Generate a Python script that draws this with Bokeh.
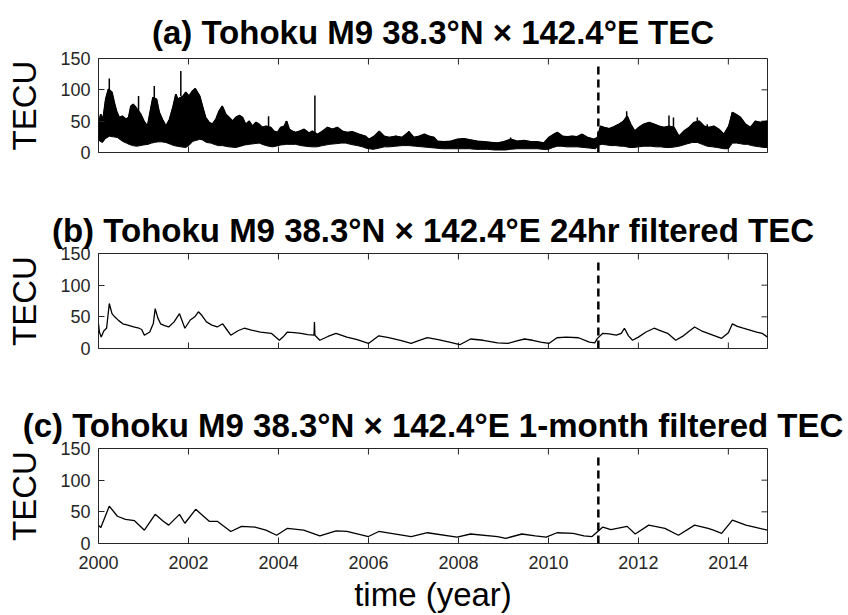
import math
from bokeh.plotting import figure
from bokeh.layouts import column
from bokeh.models import Range1d, LinearAxis, FixedTicker
from bokeh.embed import file_html
from bokeh.resources import INLINE

# ---------------- data ----------------
X_START, X_END = 2000.0, 2014.87
Y_MIN, Y_MAX = 0, 150
quake_year = 2011.11
quake_line_top = 140
year_ticks = [2000, 2002, 2004, 2006, 2008, 2010, 2012, 2014]
tecu_ticks = [0, 50, 100, 150]

titles = [
    "(a) Tohoku M9 38.3°N × 142.4°E TEC",
    "(b) Tohoku M9 38.3°N × 142.4°E 24hr filtered TEC",
    "(c) Tohoku M9 38.3°N × 142.4°E 1-month filtered TEC",
]

# (a) raw hourly TEC: upper and lower edges of the dense daily oscillation band
a_upper_years = [2000.00, 2000.05, 2000.10, 2000.16, 2000.22, 2000.30, 2000.35, 2000.40, 2000.46, 2000.53,
                 2000.61, 2000.67, 2000.72, 2000.77, 2000.83, 2000.94, 2001.01, 2001.09, 2001.16, 2001.21,
                 2001.29, 2001.35, 2001.42, 2001.50, 2001.58, 2001.66, 2001.72, 2001.76, 2001.88, 2001.94,
                 2002.01, 2002.09, 2002.15, 2002.20, 2002.25, 2002.31, 2002.38, 2002.46, 2002.53, 2002.61,
                 2002.68, 2002.75, 2002.83, 2002.90, 2002.98, 2003.05, 2003.13, 2003.20, 2003.27, 2003.35,
                 2003.42, 2003.50, 2003.57, 2003.64, 2003.72, 2003.83, 2003.90, 2003.98, 2004.05, 2004.13,
                 2004.18, 2004.24, 2004.31, 2004.38, 2004.47, 2004.57, 2004.68, 2004.75, 2004.87, 2004.98,
                 2005.09, 2005.20, 2005.31, 2005.42, 2005.53, 2005.64, 2005.79, 2005.93, 2006.01, 2006.13,
                 2006.24, 2006.35, 2006.46, 2006.61, 2006.75, 2006.90, 2007.01, 2007.13, 2007.24, 2007.35,
                 2007.46, 2007.53, 2007.68, 2007.83, 2007.98, 2008.12, 2008.27, 2008.42, 2008.57, 2008.72,
                 2008.87, 2009.01, 2009.16, 2009.31, 2009.46, 2009.61, 2009.75, 2009.90, 2010.01, 2010.12,
                 2010.20, 2010.31, 2010.42, 2010.53, 2010.64, 2010.75, 2010.87, 2011.01, 2011.09, 2011.16,
                 2011.24, 2011.35, 2011.46, 2011.57, 2011.67, 2011.75, 2011.83, 2011.92, 2012.01, 2012.12,
                 2012.24, 2012.35, 2012.46, 2012.57, 2012.68, 2012.79, 2012.90, 2013.01, 2013.13, 2013.24,
                 2013.35, 2013.46, 2013.57, 2013.68, 2013.79, 2013.90, 2014.01, 2014.09, 2014.16, 2014.27,
                 2014.38, 2014.49, 2014.60, 2014.71, 2014.87]
a_upper = [45, 61, 53, 85, 101, 96, 80, 66, 56, 58,
           53, 56, 74, 77, 72, 61, 50, 42, 69, 88,
           85, 64, 53, 42, 53, 74, 93, 85, 90, 96,
           90, 98, 102, 96, 90, 74, 56, 48, 45, 53,
           66, 74, 61, 56, 50, 56, 59, 56, 45, 50,
           42, 48, 45, 40, 42, 40, 34, 32, 40, 42,
           50, 37, 34, 32, 34, 37, 31, 34, 29, 34,
           40, 37, 40, 34, 32, 33, 29, 26, 21, 26,
           34, 26, 24, 26, 24, 33, 24, 26, 29, 26,
           24, 18, 17, 18, 21, 22, 20, 18, 17, 16,
           15, 17, 21, 18, 19, 17, 17, 15, 24, 29,
           32, 26, 25, 26, 25, 29, 24, 21, 24, 42,
           40, 38, 41, 45, 50, 58, 45, 34, 40, 45,
           48, 45, 42, 40, 42, 40, 26, 34, 40, 48,
           50, 42, 40, 42, 37, 29, 42, 64, 61, 56,
           45, 40, 50, 48, 50]
a_lower_years = [2000.00, 2000.03, 2000.09, 2000.15, 2000.24, 2000.33, 2000.42, 2000.53, 2000.62, 2000.68,
                 2000.76, 2000.85, 2000.93, 2001.00, 2001.10, 2001.18, 2001.24, 2001.32, 2001.40, 2001.50,
                 2001.60, 2001.68, 2001.75, 2001.83, 2001.94, 2002.02, 2002.10, 2002.16, 2002.25, 2002.31,
                 2002.40, 2002.50, 2002.57, 2002.66, 2002.75, 2002.82, 2002.90, 2003.05, 2003.16, 2003.25,
                 2003.35, 2003.45, 2003.57, 2003.68, 2003.78, 2003.87, 2003.94, 2004.05, 2004.18, 2004.28,
                 2004.38, 2004.50, 2004.60, 2004.75, 2004.85, 2004.98, 2005.13, 2005.27, 2005.40, 2005.50,
                 2005.60, 2005.75, 2005.87, 2005.94, 2006.10, 2006.24, 2006.35, 2006.46, 2006.60, 2006.75,
                 2006.90, 2007.05, 2007.20, 2007.35, 2007.50, 2007.65, 2007.75, 2007.90, 2008.00, 2008.12,
                 2008.25, 2008.38, 2008.50, 2008.65, 2008.80, 2008.90, 2009.05, 2009.15, 2009.30, 2009.46,
                 2009.60, 2009.75, 2009.88, 2010.00, 2010.10, 2010.20, 2010.30, 2010.40, 2010.50, 2010.65,
                 2010.79, 2010.92, 2011.05, 2011.12, 2011.20, 2011.30, 2011.39, 2011.50, 2011.61, 2011.68,
                 2011.74, 2011.80, 2011.90, 2012.00, 2012.12, 2012.27, 2012.40, 2012.50, 2012.60, 2012.72,
                 2012.82, 2012.90, 2013.00, 2013.09, 2013.20, 2013.31, 2013.42, 2013.53, 2013.65, 2013.75,
                 2013.90, 2014.00, 2014.09, 2014.18, 2014.27, 2014.35, 2014.42, 2014.52, 2014.60, 2014.70,
                 2014.79, 2014.87]
a_lower = [22, 18, 16, 22, 26, 25, 24, 18, 15, 13,
           11, 10, 11, 12, 13, 15, 16, 17, 17, 16,
           13, 11, 10, 9, 8, 12, 18, 19, 21, 20,
           16, 15, 13, 11, 11, 10, 9, 8, 10, 12,
           13, 14, 15, 12, 10, 9, 10, 12, 13, 13,
           13, 11, 10, 9, 9, 11, 13, 14, 15, 15,
           13, 11, 9, 7, 5, 7, 9, 9, 10, 11,
           11, 10, 9, 8, 7, 6, 6, 6, 6, 6,
           6, 5, 5, 5, 4, 4, 4, 5, 6, 6,
           6, 6, 5, 5, 8, 10, 10, 9, 9, 9,
           8, 7, 6, 12, 13, 12, 11, 11, 10, 10,
           9, 8, 8, 9, 10, 10, 9, 9, 8, 8,
           9, 10, 12, 14, 16, 16, 13, 10, 9, 8,
           6, 6, 15, 15, 14, 13, 13, 11, 10, 9,
           8, 8]
# isolated spikes of (a)
a_spike_years = [2000.24, 2000.89, 2001.24, 2001.83, 2003.78, 2004.18, 2004.81, 2006.24, 2006.90,
                 2009.16, 2011.74, 2012.68, 2012.78, 2013.31, 2013.53, 2014.09]
a_spike_base = [95, 60, 85, 90, 42, 42, 32, 28, 24, 17, 55, 42, 40, 48, 40, 60]
a_spike_top = [118, 90, 106, 130, 58, 50, 91, 34, 34, 24, 66, 59, 56, 56, 45, 64]

# (b) 24-hour filtered TEC
b_years = [2000.00, 2000.02, 2000.06, 2000.12, 2000.18, 2000.24, 2000.30, 2000.36, 2000.45, 2000.54,
           2000.65, 2000.78, 2000.90, 2000.96, 2001.02, 2001.14, 2001.22, 2001.26, 2001.32, 2001.38,
           2001.47, 2001.56, 2001.68, 2001.80, 2001.92, 2002.04, 2002.14, 2002.22, 2002.30, 2002.40,
           2002.52, 2002.64, 2002.76, 2002.85, 2002.94, 2003.10, 2003.24, 2003.40, 2003.60, 2003.84,
           2004.02, 2004.10, 2004.20, 2004.35, 2004.50, 2004.65, 2004.79, 2004.80, 2004.81, 2004.92,
           2005.10, 2005.28, 2005.52, 2005.75, 2006.00, 2006.23, 2006.45, 2006.71, 2006.95, 2007.10,
           2007.31, 2007.55, 2007.80, 2008.03, 2008.27, 2008.55, 2008.87, 2009.10, 2009.30, 2009.47,
           2009.65, 2009.83, 2010.01, 2010.19, 2010.40, 2010.67, 2010.91, 2011.03, 2011.09, 2011.21,
           2011.35, 2011.51, 2011.62, 2011.69, 2011.78, 2011.87, 2012.00, 2012.17, 2012.35, 2012.50,
           2012.65, 2012.83, 2013.00, 2013.12, 2013.25, 2013.40, 2013.55, 2013.70, 2013.85, 2014.00,
           2014.09, 2014.20, 2014.33, 2014.48, 2014.63, 2014.75, 2014.87]
b_values = [39, 26, 18, 28, 32, 71, 55, 50, 44, 39,
            37, 34, 32, 30, 21, 26, 40, 63, 48, 39,
            36, 34, 42, 55, 32, 45, 50, 58, 52, 42,
            37, 34, 39, 30, 21, 28, 32, 29, 26, 24,
            13, 18, 26, 25, 24, 22, 21, 42, 21, 13,
            19, 24, 18, 14, 8, 20, 17, 13, 8, 12,
            17, 14, 10, 6, 15, 13, 9, 8, 12, 15,
            13, 10, 8, 17, 18, 17, 10, 9, 16, 24,
            23, 21, 24, 32, 20, 13, 18, 26, 32, 28,
            24, 13, 20, 27, 34, 28, 24, 20, 16, 25,
            39, 35, 32, 29, 26, 24, 18]

# (c) 1-month filtered TEC
c_years = [2000.00, 2000.05, 2000.24, 2000.42, 2000.60, 2000.72, 2000.80, 2001.02, 2001.26, 2001.44,
           2001.56, 2001.80, 2001.92, 2002.16, 2002.46, 2002.64, 2002.94, 2003.18, 2003.48, 2003.72,
           2003.96, 2004.20, 2004.56, 2004.92, 2005.28, 2005.52, 2006.00, 2006.23, 2006.95, 2007.31,
           2007.97, 2008.27, 2008.87, 2009.05, 2009.41, 2009.71, 2009.95, 2010.19, 2010.55, 2010.79,
           2010.97, 2011.21, 2011.39, 2011.75, 2011.93, 2012.23, 2012.59, 2012.89, 2013.25, 2013.55,
           2013.67, 2013.85, 2014.09, 2014.39, 2014.63, 2014.87]
c_values = [29, 25, 59, 43, 38, 37, 36, 21, 46, 35,
            29, 46, 32, 54, 35, 35, 19, 27, 26, 21,
            13, 24, 21, 12, 20, 19, 11, 19, 11, 17,
            10, 15, 11, 8, 15, 12, 10, 17, 16, 12,
            11, 26, 22, 27, 15, 29, 24, 13, 29, 24,
            21, 16, 37, 29, 25, 21]

# ---------------- styling ----------------
FONT = "Liberation Sans"
INK = "#262626"


def make_panel(title, height, border_top, border_bottom, show_x, title_standoff):
    p = figure(width=848, height=height, output_backend="svg", toolbar_location=None,
               x_range=Range1d(X_START, X_END), y_range=Range1d(Y_MIN, Y_MAX),
               min_border_left=98, min_border_right=81,
               min_border_top=border_top, min_border_bottom=border_bottom,
               x_axis_location=None, y_axis_location=None)
    p.background_fill_color = "white"
    p.border_fill_color = "white"
    p.outline_line_color = INK
    p.outline_line_width = 1
    p.xgrid.visible = False
    p.ygrid.visible = False

    p.title.text = title
    p.title.text_font = FONT
    p.title.text_font_style = "bold"
    p.title.text_font_size = "33px"
    p.title.text_color = "black"
    p.title.align = "center"
    p.title.standoff = title_standoff

    left = LinearAxis(ticker=FixedTicker(ticks=tecu_ticks))
    left.axis_line_color = None
    left.major_tick_in = 6
    left.major_tick_out = 0
    left.major_tick_line_color = INK
    left.minor_tick_line_color = None
    left.major_label_text_font = FONT
    left.major_label_text_color = INK
    left.major_label_text_font_size = "18px"
    left.major_label_standoff = 8
    left.axis_label = "TECU"
    left.axis_label_text_font = FONT
    left.axis_label_text_font_size = "33px"
    left.axis_label_text_font_style = "normal"
    left.axis_label_text_color = "black"
    left.axis_label_standoff = 14
    p.add_layout(left, "left")

    # mirrored inward ticks (top, right, and bottom when unlabelled): half of
    # each dash marker is clipped away by the frame, leaving an inward tick
    p.scatter(x=year_ticks, y=[Y_MAX] * len(year_ticks), marker="dash", angle=math.pi / 2,
              size=12, line_color=INK, line_width=1)
    p.scatter(x=[X_END] * len(tecu_ticks), y=tecu_ticks, marker="dash", angle=0,
              size=12, line_color=INK, line_width=1)

    if show_x:
        bottom = LinearAxis(ticker=FixedTicker(ticks=year_ticks))
        bottom.axis_line_color = None
        bottom.major_tick_in = 6
        bottom.major_tick_out = 0
        bottom.major_tick_line_color = INK
        bottom.minor_tick_line_color = None
        bottom.major_label_text_font = FONT
        bottom.major_label_text_color = INK
        bottom.major_label_text_font_size = "18px"
        bottom.major_label_standoff = 12
        bottom.axis_label = "time (year)"
        bottom.axis_label_text_font = FONT
        bottom.axis_label_text_font_size = "33px"
        bottom.axis_label_text_font_style = "normal"
        bottom.axis_label_text_color = "black"
        bottom.axis_label_standoff = 4
        p.add_layout(bottom, "below")
    else:
        p.scatter(x=year_ticks, y=[Y_MIN] * len(year_ticks), marker="dash", angle=math.pi / 2,
                  size=12, line_color=INK, line_width=1)

    p.segment(x0=[quake_year], y0=[0], x1=[quake_year], y1=[quake_line_top],
              line_color="black", line_width=2.5, line_dash="8 5")
    return p


pa = make_panel(titles[0], 200, 58, 48, False, 15)
band_x = a_upper_years + a_lower_years[::-1]
band_y = a_upper + a_lower[::-1]
pa.patch(x=band_x, y=band_y, fill_color="black", line_color="black", line_width=1.0)
pa.line(x=a_upper_years, y=a_upper, line_color="black", line_width=1.6)
pa.segment(x0=a_spike_years, y0=a_spike_base, x1=a_spike_years, y1=a_spike_top,
           line_color="black", line_width=1.5)

pb = make_panel(titles[1], 195, 53, 47, False, 10)
pb.line(x=b_years, y=b_values, line_color="black", line_width=1.3)

pc = make_panel(titles[2], 220, 53, 72, True, 10)
pc.line(x=c_years, y=c_values, line_color="black", line_width=1.3)

layout = column(pa, pb, pc, spacing=0)

open("out.html", "w").write(file_html(layout, INLINE))
